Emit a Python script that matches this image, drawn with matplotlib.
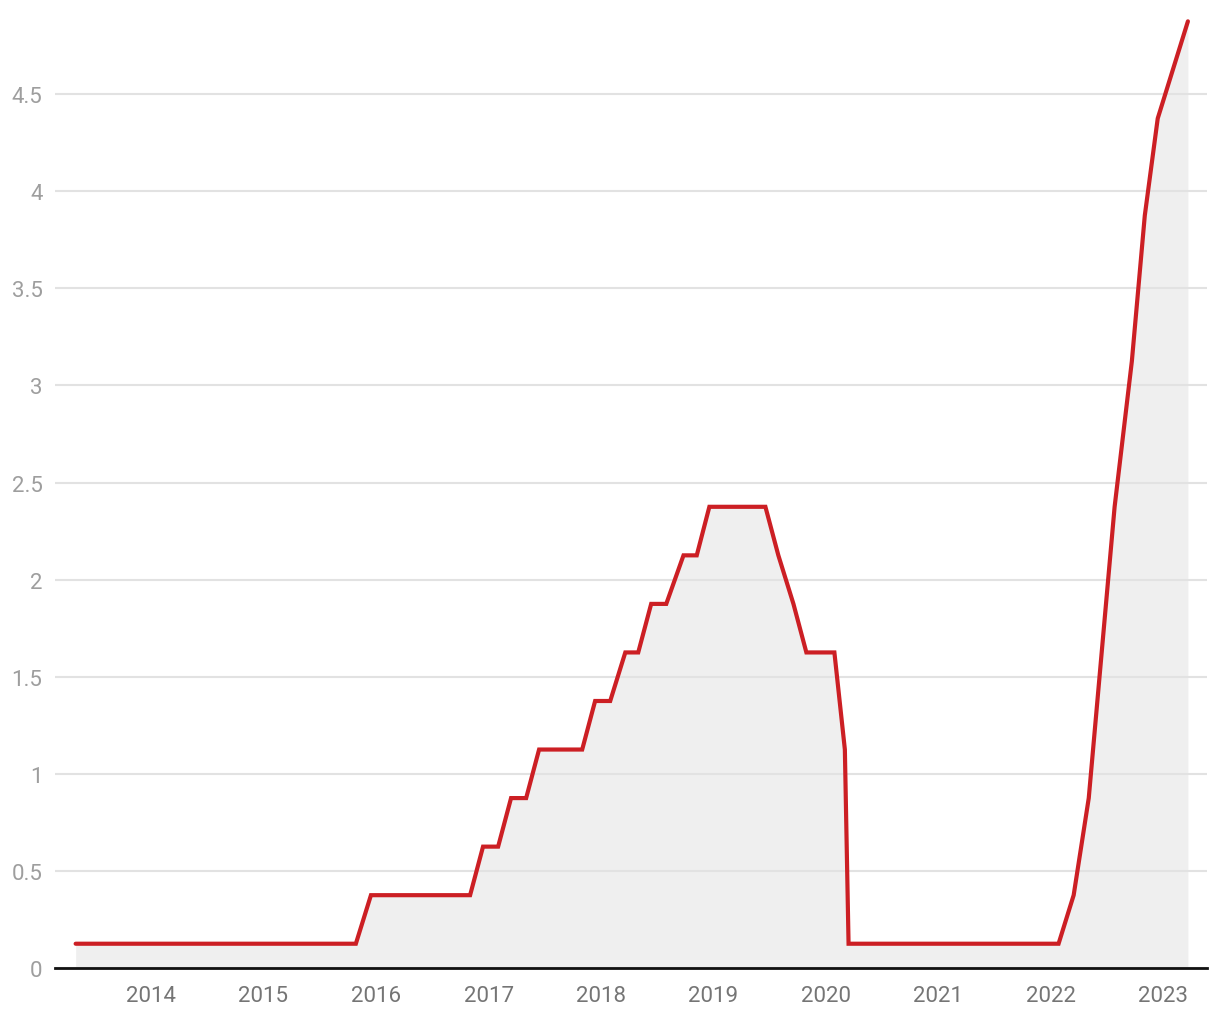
import matplotlib
matplotlib.use("Agg")
import matplotlib.pyplot as plt
import matplotlib.dates as mdates
import pandas as pd

# FOMC meeting dates and target range midpoint (%)
dates = [
    "2013-05-01", "2013-06-19", "2013-07-31", "2013-09-18", "2013-10-30", "2013-12-18",
    "2014-01-29", "2014-03-19", "2014-04-30", "2014-06-18", "2014-07-30", "2014-09-17",
    "2014-10-29", "2014-12-17",
    "2015-01-28", "2015-03-18", "2015-04-29", "2015-06-17", "2015-07-29", "2015-09-17",
    "2015-10-28", "2015-12-16",
    "2016-01-27", "2016-03-16", "2016-04-27", "2016-06-15", "2016-07-27", "2016-09-21",
    "2016-11-02", "2016-12-14",
    "2017-02-01", "2017-03-15", "2017-05-03", "2017-06-14", "2017-07-26", "2017-09-20",
    "2017-11-01", "2017-12-13",
    "2018-01-31", "2018-03-21", "2018-05-02", "2018-06-13", "2018-08-01", "2018-09-26",
    "2018-11-08", "2018-12-19",
    "2019-01-30", "2019-03-20", "2019-05-01", "2019-06-19", "2019-07-31", "2019-09-18",
    "2019-10-30", "2019-12-11",
    "2020-01-29", "2020-03-03", "2020-03-15", "2020-04-29", "2020-06-10", "2020-07-29",
    "2020-09-16", "2020-11-05", "2020-12-16",
    "2021-01-27", "2021-03-17", "2021-04-28", "2021-06-16", "2021-07-28", "2021-09-22",
    "2021-11-03", "2021-12-15",
    "2022-01-26", "2022-03-16", "2022-05-04", "2022-06-15", "2022-07-27", "2022-09-21",
    "2022-11-02", "2022-12-14",
    "2023-02-01", "2023-03-22",
]
rates = (
    [0.125] * 6
    + [0.125] * 8
    + [0.125] * 7 + [0.375]
    + [0.375] * 7 + [0.625]
    + [0.625, 0.875, 0.875, 1.125, 1.125, 1.125, 1.125, 1.375]
    + [1.375, 1.625, 1.625, 1.875, 1.875, 2.125, 2.125, 2.375]
    + [2.375, 2.375, 2.375, 2.375, 2.125, 1.875, 1.625, 1.625]
    + [1.625, 1.125, 0.125, 0.125, 0.125, 0.125, 0.125, 0.125, 0.125]
    + [0.125] * 8
    + [0.125, 0.375, 0.875, 1.625, 2.375, 3.125, 3.875, 4.375]
    + [4.625, 4.875]
)
years = list(range(2014, 2024))

x = pd.to_datetime(dates)

fig = plt.figure(figsize=(12.2, 10.2), dpi=100)
ax = fig.add_axes([55 / 1220, 51 / 1020, 1152 / 1220, 969 / 1020])

ax.fill_between(x, rates, 0, color="#efefef", linewidth=0, zorder=1)
ax.plot(x, rates, color="#cc1f24", linewidth=3.0, zorder=3,
        solid_joinstyle="miter", solid_capstyle="round")

ax.set_ylim(0, 4.99)
ax.set_xlim(pd.Timestamp("2013-02-23"), pd.Timestamp("2023-05-23"))

yt = [0, 0.5, 1, 1.5, 2, 2.5, 3, 3.5, 4, 4.5]
ax.set_yticks(yt)
ax.set_yticklabels(["0", "0.5", "1", "1.5", "2", "2.5", "3", "3.5", "4", "4.5"])
ax.set_xticks([pd.Timestamp(f"{y}-01-01") for y in years])
ax.xaxis.set_major_formatter(mdates.DateFormatter("%Y"))

ax.grid(axis="y", color="#e2e2e2", linewidth=1.5, zorder=2)
ax.set_axisbelow(False)
ax.grid(axis="x", visible=False)

for s in ["left", "right", "top"]:
    ax.spines[s].set_visible(False)
ax.spines["bottom"].set_color("#111111")
ax.spines["bottom"].set_linewidth(2)
ax.spines["bottom"].set_zorder(4)

ax.tick_params(axis="both", length=0)
ax.tick_params(axis="y", pad=9, labelcolor="#9e9e9e", labelsize=16)
ax.tick_params(axis="x", pad=12, labelcolor="#757575", labelsize=16)
for t in ax.get_xticklabels() + ax.get_yticklabels():
    t.set_fontfamily("Roboto")

fig.savefig("out.png", dpi=100)
